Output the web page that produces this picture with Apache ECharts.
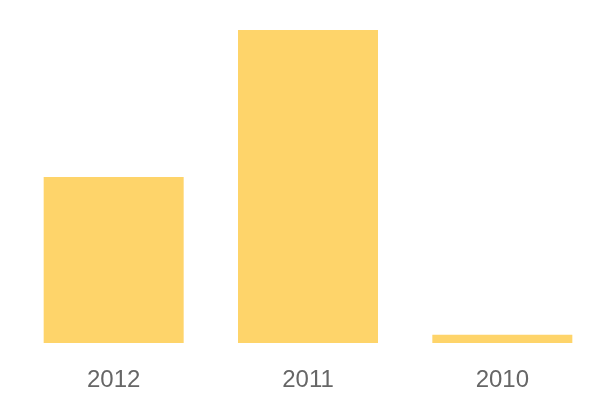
<!DOCTYPE html>
<html>
<head>
<meta charset="utf-8">
<script src="https://cdn.jsdelivr.net/npm/echarts@6/dist/echarts.min.js"></script>
<style>
  html, body { margin: 0; padding: 0; background: #fff; }
  #chart { width: 600px; height: 400px; }
</style>
</head>
<body>
<div id="chart"></div>
<script>
  // years shown on the x axis
  var categories = ['2012', '2011', '2010'];
  // bar heights (no value axis shown, read as relative sizes)
  var values = [53, 100, 2.6];

  var chart = echarts.init(document.getElementById('chart'));
  chart.setOption({
    animation: false,
    grid: {
      left: 16.5,
      right: 0.5,
      top: 30,
      bottom: 57,
      containLabel: false
    },
    xAxis: {
      type: 'category',
      data: categories,
      axisLine: { show: false },
      axisTick: { show: false },
      axisLabel: {
        color: '#666666',
        fontSize: 24,
        fontFamily: 'Liberation Sans, Arial, sans-serif',
        margin: 25
      }
    },
    yAxis: {
      type: 'value',
      min: 0,
      max: 'dataMax',
      show: false,
      splitLine: { show: false }
    },
    series: [
      {
        type: 'bar',
        data: values,
        barWidth: 140,
        itemStyle: { color: '#FED46A' }
      }
    ]
  });
</script>
</body>
</html>
